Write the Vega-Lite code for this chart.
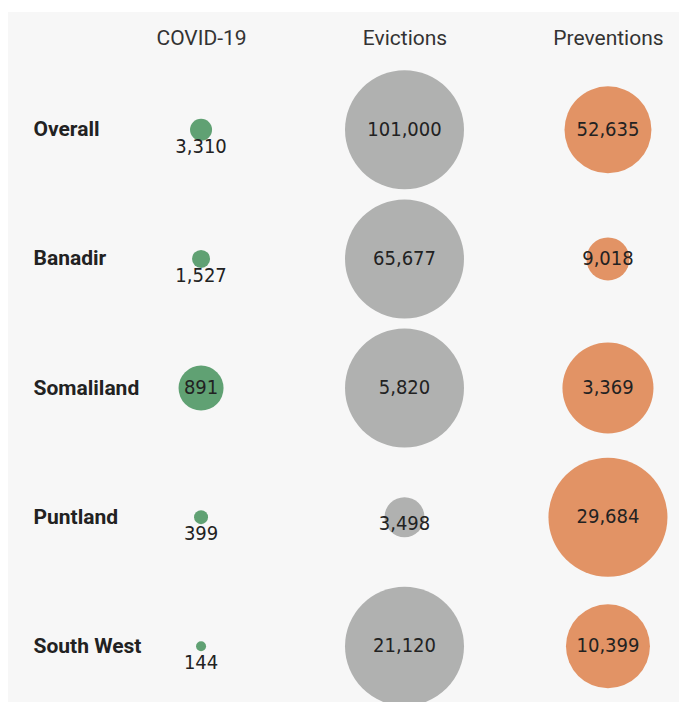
{
  "$schema": "https://vega.github.io/schema/vega-lite/v6.json",
  "width": 671,
  "height": 690,
  "autosize": {"type": "none"},
  "padding": {"left": 8, "top": 12, "right": 0, "bottom": 0},
  "background": "#ffffff",
  "config": {"view": {"fill": "#f7f7f7", "stroke": null}},
  "data": {
    "values": [
      {"region": "Overall", "metric": "COVID-19", "value": 3310, "share": 3.42},
      {"region": "Overall", "metric": "Evictions", "value": 101000, "share": 100},
      {"region": "Overall", "metric": "Preventions", "value": 52635, "share": 53.4},
      {"region": "Banadir", "metric": "COVID-19", "value": 1527, "share": 2.29},
      {"region": "Banadir", "metric": "Evictions", "value": 65677, "share": 100},
      {"region": "Banadir", "metric": "Preventions", "value": 9018, "share": 13.1},
      {"region": "Somaliland", "metric": "COVID-19", "value": 891, "share": 14.3},
      {"region": "Somaliland", "metric": "Evictions", "value": 5820, "share": 100},
      {"region": "Somaliland", "metric": "Preventions", "value": 3369, "share": 58.5},
      {"region": "Puntland", "metric": "COVID-19", "value": 399, "share": 1.38},
      {"region": "Puntland", "metric": "Evictions", "value": 3498, "share": 11.3},
      {"region": "Puntland", "metric": "Preventions", "value": 29684, "share": 100},
      {"region": "South West", "metric": "COVID-19", "value": 144, "share": 0.71},
      {"region": "South West", "metric": "Evictions", "value": 21120, "share": 100},
      {"region": "South West", "metric": "Preventions", "value": 10399, "share": 49.8}
    ]
  },
  "encoding": {
    "x": {
      "field": "metric",
      "type": "nominal",
      "sort": ["COVID-19", "Evictions", "Preventions"],
      "scale": {"type": "point", "padding": 0.649, "align": 0.731},
      "axis": {
        "orient": "top",
        "title": null,
        "domain": false,
        "ticks": false,
        "tickSize": 0,
        "grid": false,
        "labelPadding": -26,
        "labelBaseline": "middle",
        "labelAngle": 0,
        "labelFont": "Roboto",
        "labelFontSize": 21,
        "labelColor": "#333333"
      }
    },
    "y": {
      "field": "region",
      "type": "nominal",
      "sort": ["Overall", "Banadir", "Somaliland", "Puntland", "South West"],
      "scale": {"type": "point", "padding": 0.672, "align": 0.679},
      "axis": {
        "orient": "left",
        "title": null,
        "domain": false,
        "ticks": false,
        "tickSize": 0,
        "grid": false,
        "labelPadding": -25,
        "labelAlign": "left",
        "labelBaseline": "middle",
        "labelFont": "Roboto",
        "labelFontWeight": "bold",
        "labelFontSize": 21,
        "labelColor": "#222222"
      }
    }
  },
  "layer": [
    {
      "mark": {"type": "circle", "opacity": 1},
      "encoding": {
        "size": {
          "field": "share",
          "type": "quantitative",
          "scale": {"type": "linear", "domain": [0, 100], "range": [0, 14161]},
          "legend": null
        },
        "color": {
          "field": "metric",
          "type": "nominal",
          "scale": {
            "domain": ["COVID-19", "Evictions", "Preventions"],
            "range": ["#60a173", "#b0b1b0", "#e29365"]
          },
          "legend": null
        }
      }
    },
    {
      "transform": [{"filter": "datum.share >= 12"}],
      "mark": {"type": "text", "font": "DejaVu Sans Condensed", "fontSize": 20, "color": "#222222", "baseline": "middle", "align": "center"},
      "encoding": {"text": {"field": "value", "type": "quantitative", "format": ","}}
    },
    {
      "transform": [{"filter": "datum.share >= 5 && datum.share < 12"}],
      "mark": {"type": "text", "font": "DejaVu Sans Condensed", "fontSize": 20, "color": "#222222", "baseline": "middle", "align": "center", "dy": 7},
      "encoding": {"text": {"field": "value", "type": "quantitative", "format": ","}}
    },
    {
      "transform": [{"filter": "datum.share < 5"}],
      "mark": {"type": "text", "font": "DejaVu Sans Condensed", "fontSize": 20, "color": "#222222", "baseline": "middle", "align": "center", "dy": 17},
      "encoding": {"text": {"field": "value", "type": "quantitative", "format": ","}}
    }
  ]
}
